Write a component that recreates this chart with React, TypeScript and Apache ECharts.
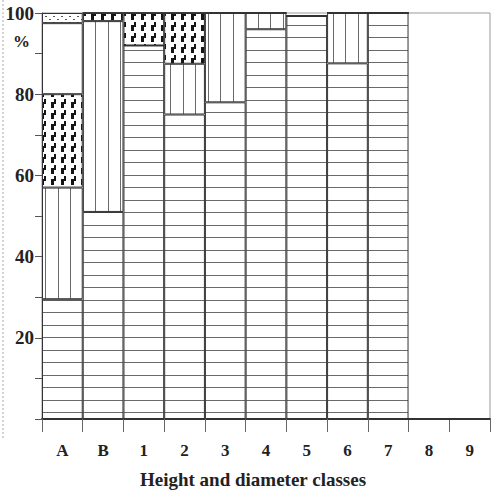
import React, { useEffect, useRef } from "react";
import * as echarts from "echarts";

const categories = ["A", "B", "1", "2", "3", "4", "5", "6", "7", "8", "9"];
// stacked shares (%) per class, bottom to top
const horizontal = [29.5, 51, 92, 75, 78, 96, 99.3, 87.6, 100, 0, 0];
const vertical = [27.5, 47, 0, 12.5, 22, 4, 0, 12.4, 0, 0, 0];
const zigzag = [23, 2, 8, 12.5, 0, 0, 0, 0, 0, 0, 0];
const blank = [17.5, 0, 0, 0, 0, 0, 0, 0, 0, 0, 0];
const dotted = [2.5, 0, 0, 0, 0, 0, 0, 0, 0, 0, 0];
const yTicks = [0, 20, 40, 60, 80, 100];

function makePattern(w: number, h: number, draw: (ctx: CanvasRenderingContext2D) => void) {
  const c = document.createElement("canvas");
  c.width = w;
  c.height = h;
  const ctx = c.getContext("2d")!;
  ctx.fillStyle = "#ffffff";
  ctx.fillRect(0, 0, w, h);
  draw(ctx);
  return { image: c, repeat: "repeat" } as any;
}

export default function App() {
  const ref = useRef<HTMLDivElement>(null);
  useEffect(() => {
    if (!ref.current) return;
    const chart = echarts.init(ref.current, null, { renderer: "svg" });

    const hPat = makePattern(8, 25, (ctx) => {
      ctx.fillStyle = "#6a6a6a";
      ctx.fillRect(0, 0, 8, 1);
      ctx.fillRect(0, 12, 8, 1);
    });
    const vPat = makePattern(25, 8, (ctx) => {
      ctx.fillStyle = "#6a6a6a";
      ctx.fillRect(8, 0, 1, 8);
      ctx.fillRect(20, 0, 1, 8);
    });
    const zPat = makePattern(10, 11, (ctx) => {
      ctx.fillStyle = "#151515";
      ctx.fillRect(1, 3, 3, 6);
      ctx.fillRect(4, 0, 2, 5);
    });
    const dPat = makePattern(8, 6, (ctx) => {
      ctx.fillStyle = "#555";
      ctx.fillRect(1, 1, 2, 1);
      ctx.fillRect(5, 4, 2, 1);
    });

    const border = { borderColor: "#333", borderWidth: 1 };
    const mk = (name: string, data: number[], color: any) => ({
      name,
      type: "bar",
      stack: "total",
      barWidth: "100%",
      barCategoryGap: "0%",
      data,
      itemStyle: { color, ...border },
      emphasis: { disabled: true },
    });

    chart.setOption({
      animation: false,
      backgroundColor: "#ffffff",
      grid: {
        left: 42,
        right: 5,
        top: 13,
        bottom: 70,
        show: true,
        borderColor: "#999",
        borderWidth: 1,
      },
      xAxis: {
        type: "category",
        data: categories,
        boundaryGap: true,
        name: "Height and diameter classes",
        nameLocation: "middle",
        nameGap: 51,
        nameTextStyle: {
          fontFamily: "Liberation Serif",
          fontSize: 19,
          fontWeight: "bold",
          color: "#222",
          padding: [0, 26, 0, 0],
        },
        axisLine: { show: true, lineStyle: { color: "#333", width: 2 } },
        axisTick: { show: true, length: 13, interval: 0, lineStyle: { color: "#666" } },
        axisLabel: {
          interval: 0,
          margin: 23,
          fontFamily: "Liberation Serif",
          fontSize: 17,
          fontWeight: "bold",
          color: "#222",
        },
        splitLine: { show: false },
      },
      yAxis: {
        type: "value",
        min: yTicks[0],
        max: yTicks[yTicks.length - 1],
        interval: 20,
        axisLine: { show: true, lineStyle: { color: "#555", width: 1 } },
        axisTick: { show: true, length: 7, lineStyle: { color: "#555" } },
        minorTick: { show: true, splitNumber: 2, length: 7, lineStyle: { color: "#555" } },
        axisLabel: {
          margin: 8,
          fontFamily: "Liberation Serif",
          fontSize: 19,
          fontWeight: "bold",
          color: "#222",
          formatter: (v: number) => (v === 0 ? "" : String(v)),
        },
        splitLine: { show: false },
        minorSplitLine: { show: false },
      },
      graphic: [
        {
          type: "text",
          left: 13,
          top: 33,
          style: {
            text: "%",
            fontFamily: "Liberation Serif",
            fontSize: 17,
            fontWeight: "bold",
            fill: "#222",
          },
        },
        {
          type: "line",
          shape: { x1: 3, y1: 0, x2: 3, y2: 440 },
          style: { stroke: "#aaa", lineWidth: 1, lineDash: [2, 2] },
        },
      ],
      series: [
        mk("Horizontal", horizontal, hPat),
        mk("Vertical", vertical, vPat),
        mk("Zigzag", zigzag, zPat),
        mk("Blank", blank, "#ffffff"),
        mk("Dotted", dotted, dPat),
      ],
    });
    return () => chart.dispose();
  }, []);
  return <div ref={ref} style={{ width: 495, height: 494, position: "fixed", left: 0, top: 0 }} />;
}
